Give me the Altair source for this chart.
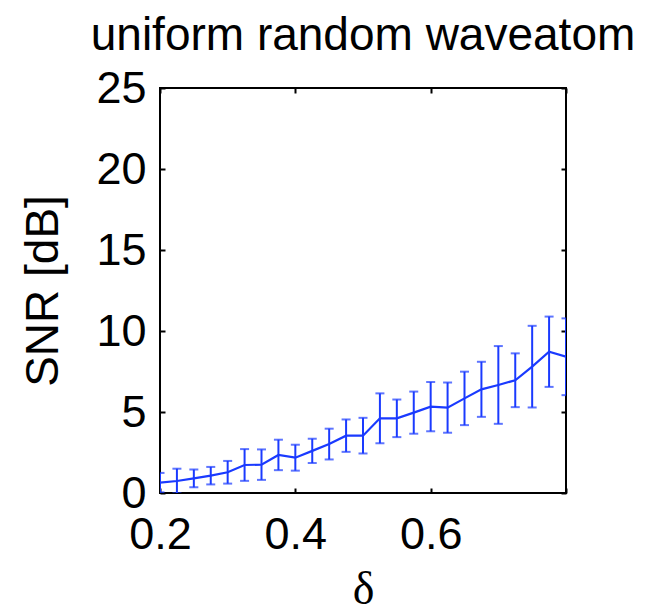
import altair as alt
import pandas as pd

delta = [0.2, 0.225, 0.25, 0.275, 0.3, 0.325, 0.35, 0.375, 0.4, 0.425, 0.45, 0.475,
         0.5, 0.525, 0.55, 0.575, 0.6, 0.625, 0.65, 0.675, 0.7, 0.725, 0.75, 0.775, 0.8]
snr = [0.64, 0.74, 0.9, 1.07, 1.28, 1.73, 1.75, 2.35, 2.18, 2.6, 3.02, 3.54,
       3.54, 4.61, 4.61, 4.96, 5.33, 5.27, 5.84, 6.4, 6.67, 6.96, 7.8, 8.72, 8.41]
err = [0.6, 0.76, 0.55, 0.54, 0.7, 0.98, 0.94, 0.94, 0.8, 0.75, 0.95, 1.0,
       1.1, 1.54, 1.16, 1.3, 1.52, 1.55, 1.65, 1.7, 2.4, 1.66, 2.52, 2.17, 2.37]

x_ticks = [0.2, 0.4, 0.6, 0.8]
y_ticks = [0, 5, 10, 15, 20, 25]

df = pd.DataFrame({"delta": delta, "snr": snr, "err": err})
df["lo"] = df["snr"] - df["err"]
df["hi"] = df["snr"] + df["err"]

BLUE = "#1a3aff"
FONT = "Liberation Sans"

xs = alt.Scale(domain=[0.2, 0.8], nice=False, zero=False)
ys = alt.Scale(domain=[0, 25], nice=False, zero=False)

base = alt.Chart(df)

line = base.mark_line(color=BLUE, strokeWidth=2.2, clip=True).encode(
    x=alt.X("delta:Q", scale=xs, axis=alt.Axis(
        values=x_ticks, format=".1f", title="δ", orient="bottom",
        labelExpr="datum.value > 0.75 ? '' : datum.label",
        offset=-5, tickSize=5, tickWidth=2, tickColor="black", domain=False, grid=False,
        labelFlush=False, labelOverlap=False,
        labelPadding=19, labelFontSize=45, labelFont=FONT, labelColor="black",
        titleFont="Liberation Serif", titleFontSize=46, titleFontWeight="normal",
        titleColor="black", titlePadding=10)),
    y=alt.Y("snr:Q", scale=ys, axis=alt.Axis(
        values=y_ticks, title="SNR [dB]", orient="left",
        offset=-5, tickSize=5, tickWidth=2, tickColor="black", domain=False, grid=False,
        labelFlush=False, labelOverlap=False,
        labelPadding=14, labelFontSize=45, labelFont=FONT, labelColor="black",
        titleFont=FONT, titleFontSize=46, titleFontWeight="normal",
        titleColor="black", titlePadding=28)),
)

rules = base.mark_rule(color=BLUE, strokeWidth=2, clip=True).encode(
    x=alt.X("delta:Q", scale=xs, axis=None),
    y=alt.Y("lo:Q", scale=ys, axis=None),
    y2="hi:Q",
)

caps_lo = base.mark_tick(color=BLUE, orient="horizontal", size=9, thickness=2, clip=True).encode(
    x=alt.X("delta:Q", scale=xs, axis=None),
    y=alt.Y("lo:Q", scale=ys, axis=None),
)

caps_hi = base.mark_tick(color=BLUE, orient="horizontal", size=9, thickness=2, clip=True).encode(
    x=alt.X("delta:Q", scale=xs, axis=alt.Axis(
        values=x_ticks, orient="top", labels=False, title=None,
        offset=-5, tickSize=5, tickWidth=2, tickColor="black", domain=False, grid=False)),
    y=alt.Y("hi:Q", scale=ys, axis=alt.Axis(
        values=y_ticks, orient="right", labels=False, title=None,
        offset=-5, tickSize=5, tickWidth=2, tickColor="black", domain=False, grid=False)),
)

chart = alt.layer(line, rules, caps_lo, caps_hi).resolve_axis(
    x="independent", y="independent"
).properties(
    width=406, height=405,
    title=alt.TitleParams("uniform random waveatom", font=FONT, fontSize=46,
                          fontWeight="normal", color="black", offset=6, anchor="middle"),
    autosize=alt.AutoSizeParams(type="none"),
    padding={"left": 160, "top": 88, "right": 85, "bottom": 113},
).configure(
    background="white"
).configure_view(
    stroke="black", strokeWidth=2
)

chart.save("out.html", embed_options={"renderer": "svg", "actions": False})
